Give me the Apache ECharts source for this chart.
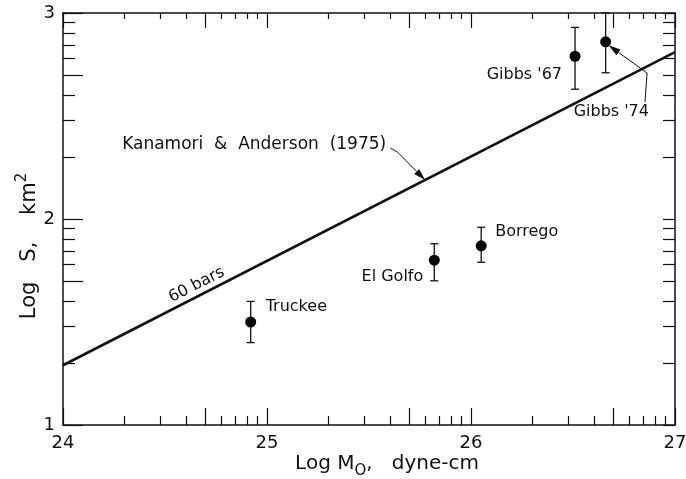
<!DOCTYPE html>
<html>
<head>
<meta charset="utf-8">
<script src="https://cdn.jsdelivr.net/npm/echarts@6/dist/echarts.min.js"></script>
<style>
  html, body { margin: 0; padding: 0; background: #fff; }
  #chart { width: 686px; height: 479px; }
</style>
</head>
<body>
<div id="chart"></div>
<script>
// ---- data ----
const xTickLabels = [24, 25, 26, 27];
const yTickLabels = [1, 2, 3];
const minorFactors = [2, 3, 4, 6, 7, 8, 9];
const midFactors = [5];

const quakeNames = ['Truckee', 'El Golfo', 'Borrego', "Gibbs '67", "Gibbs '74"];
const logM0 = [24.92, 25.82, 26.05, 26.51, 26.66];
const logS = [1.50, 1.80, 1.87, 2.79, 2.86];
const logSLow = [1.40, 1.70, 1.79, 2.63, 2.71];
const logSHigh = [1.60, 1.88, 1.96, 2.93, 3.00];

const refLineM0 = [24, 27];
const refLineS = [1.29, 2.81];

// ---- helpers ----
function logTicks(min, max, factors) {
  const out = [];
  for (let d = min; d < max; d++) factors.forEach(f => out.push(d + Math.log10(f)));
  return out;
}
const FONT = 'DejaVu Sans';
const INK = '#111';
const xMajor = xTickLabels.concat(logTicks(24, 27, midFactors));
const xMinor = logTicks(24, 27, minorFactors);
const yMajor = yTickLabels.concat(logTicks(1, 3, midFactors));
const yMinor = logTicks(1, 3, minorFactors);
const yAll = yMajor.concat(yMinor);

const labelPlacement = {
  'Truckee':   { align: 'left',  offset: [15, -15] },
  'El Golfo':  { align: 'right', offset: [-11, 17] },
  'Borrego':   { align: 'left',  offset: [14, -14] },
  "Gibbs '67": { align: 'right', offset: [-13, 19] },
  "Gibbs '74": { align: 'left',  offset: [-32, 70] }
};

const lineStyleAxis = { color: INK, width: 1.5 };
function xAx(pos, ticks, len, showLine, showLabel) {
  return {
    type: 'value', min: 24, max: 27, interval: 1, position: pos,
    axisLine: { show: showLine, onZero: false, lineStyle: lineStyleAxis },
    axisTick: { show: true, inside: true, length: len, customValues: ticks, lineStyle: { color: INK, width: 1.2 } },
    axisLabel: { show: showLabel, fontSize: 18, color: INK, fontFamily: FONT, margin: 9 },
    splitLine: { show: false }
  };
}
function yAx(pos, ticks, len, showLine, showLabel) {
  return {
    type: 'value', min: 1, max: 3, interval: 1, position: pos,
    axisLine: { show: showLine, onZero: false, lineStyle: lineStyleAxis },
    axisTick: { show: true, inside: true, length: len, customValues: ticks, lineStyle: { color: INK, width: 1.2 } },
    axisLabel: { show: showLabel, fontSize: 18, color: INK, fontFamily: FONT, margin: 8 },
    splitLine: { show: false }
  };
}

const xAxes = [
  xAx('bottom', xMajor, 17, true, true),
  xAx('bottom', xMinor, 9, false, false),
  xAx('top', xMajor, 15, true, false),
  xAx('top', xMinor, 6, false, false)
];
Object.assign(xAxes[0], {
  name: '{a|Log M}{s|O}{a|,   dyne-cm}',
  nameLocation: 'middle',
  nameGap: 24,
  nameMoveOverlap: false,
  nameTextStyle: {
    padding: [0, 0, 0, 36],
    rich: {
      a: { fontSize: 20, fontFamily: FONT, color: INK, lineHeight: 30, verticalAlign: 'middle' },
      s: { fontSize: 15, fontFamily: FONT, color: INK, lineHeight: 15, verticalAlign: 'bottom' }
    }
  }
});
const yAxes = [
  yAx('left', yMajor, 20, true, true),
  yAx('left', yMinor, 12, false, false),
  yAx('right', yAll, 12, true, false)
];
Object.assign(yAxes[0], {
  name: '{a|Log   S,    km}{p|2}',
  nameLocation: 'middle',
  nameGap: 18,
  nameMoveOverlap: false,
  nameRotate: 90,
  nameTextStyle: {
    padding: [0, 54, 0, 0],
    rich: {
      a: { fontSize: 21, fontFamily: FONT, color: INK, lineHeight: 30, verticalAlign: 'middle' },
      p: { fontSize: 15, fontFamily: FONT, color: INK, lineHeight: 15, verticalAlign: 'top' }
    }
  }
});

const chart = echarts.init(document.getElementById('chart'), null, { renderer: 'canvas' });

chart.setOption({
  animation: false,
  backgroundColor: '#fff',
  grid: { left: 63, right: 11, top: 13, bottom: 54, containLabel: false, outerBoundsMode: 'none' },
  xAxis: xAxes,
  yAxis: yAxes,
  series: [
    {
      type: 'line',
      name: 'Kanamori & Anderson (1975)',
      data: refLineM0.map((x, i) => [x, refLineS[i]]),
      symbol: 'none',
      lineStyle: { color: INK, width: 2.6 },
      z: 3
    },
    {
      type: 'custom',
      name: 'error bars',
      data: logM0.map((x, i) => [x, logSLow[i], logSHigh[i]]),
      renderItem(params, api) {
        const x = api.value(0);
        const p1 = api.coord([x, api.value(1)]);
        const p2 = api.coord([x, api.value(2)]);
        const w = 4;
        const st = { stroke: INK, lineWidth: 1.3 };
        return {
          type: 'group',
          children: [
            { type: 'line', shape: { x1: p1[0], y1: p1[1], x2: p2[0], y2: p2[1] }, style: st },
            { type: 'line', shape: { x1: p1[0] - w, y1: p1[1], x2: p1[0] + w, y2: p1[1] }, style: st },
            { type: 'line', shape: { x1: p2[0] - w, y1: p2[1], x2: p2[0] + w, y2: p2[1] }, style: st }
          ]
        };
      },
      z: 4
    },
    {
      type: 'scatter',
      name: 'earthquakes',
      symbol: 'circle',
      symbolSize: 11,
      itemStyle: { color: '#000', opacity: 1 },
      emphasis: { disabled: true },
      data: quakeNames.map((n, i) => ({
        name: n,
        value: [logM0[i], logS[i]],
        label: {
          show: true,
          formatter: n,
          position: 'inside',
          align: labelPlacement[n].align,
          verticalAlign: 'middle',
          offset: labelPlacement[n].offset,
          fontSize: 16,
          fontFamily: FONT,
          color: INK,
          opacity: 1,
          textBorderWidth: 0
        }
      })),
      z: 5
    }
  ]
});

// ---- annotations in data coordinates ----
const kanamoriText = { text: 'Kanamori  &  Anderson  (1975)', at: [24.29, 2.36] };
const barsText = { text: '60 bars', at: [24.655, 1.68] };
const lineAt = x => refLineS[0] + (refLineS[1] - refLineS[0]) * (x - refLineM0[0]) / (refLineM0[1] - refLineM0[0]);
const kanamoriArrow = [[25.605, 2.345], [25.64, 2.325], [25.775, lineAt(25.775)]];
const gibbs74Arrow = [[26.853, 2.568], [26.863, 2.709], [26.675, 2.843]];

function px(p) { return chart.convertToPixel({ xAxisIndex: 0, yAxisIndex: 0 }, p); }
function arrowGraphics(dataPts) {
  const pts = dataPts.map(px);
  const E = pts[pts.length - 1], P = pts[pts.length - 2];
  let dx = E[0] - P[0], dy = E[1] - P[1];
  const L = Math.hypot(dx, dy); dx /= L; dy /= L;
  const len = 12, hw = 3.5;
  const B = [E[0] - dx * len, E[1] - dy * len];
  return [
    { type: 'polyline', shape: { points: pts.slice(0, -1).concat([B]) }, style: { stroke: INK, lineWidth: 1, fill: null }, z: 10 },
    { type: 'polygon', shape: { points: [E, [B[0] - dy * hw, B[1] + dx * hw], [B[0] + dy * hw, B[1] - dx * hw]] }, style: { fill: INK }, z: 10 }
  ];
}
const l0 = px([refLineM0[0], refLineS[0]]), l1 = px([refLineM0[1], refLineS[1]]);
const angle = Math.atan2(-(l1[1] - l0[1]), l1[0] - l0[0]);
const kp = px(kanamoriText.at), bp = px(barsText.at);

chart.setOption({
  graphic: [
    { type: 'text', x: kp[0], y: kp[1], style: { text: kanamoriText.text, font: '17px ' + FONT, fill: INK, align: 'left', verticalAlign: 'middle' }, z: 10 },
    { type: 'text', x: bp[0], y: bp[1], rotation: angle, style: { text: barsText.text, font: '16px ' + FONT, fill: INK, align: 'center', verticalAlign: 'middle' }, z: 10 }
  ].concat(arrowGraphics(kanamoriArrow), arrowGraphics(gibbs74Arrow))
});
</script>
</body>
</html>
